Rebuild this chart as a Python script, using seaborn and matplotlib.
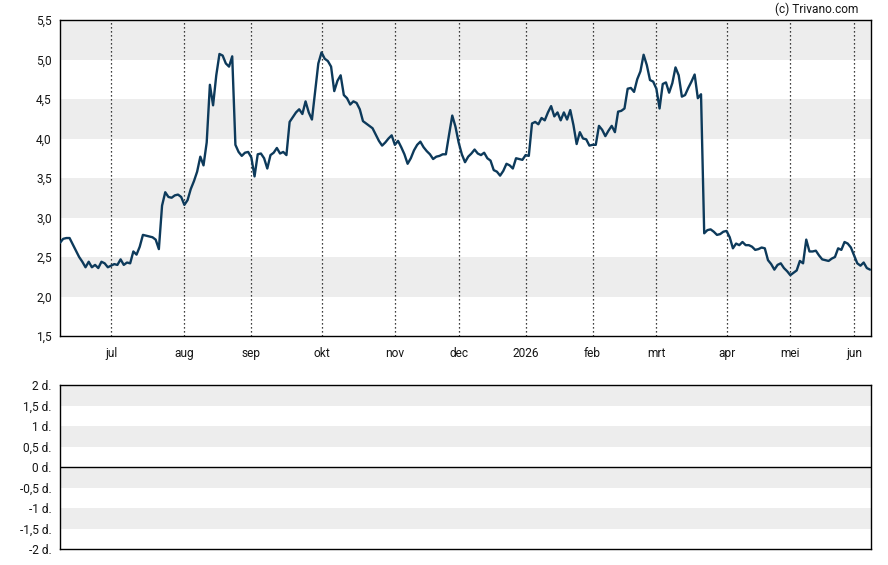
import pandas as pd
import matplotlib
matplotlib.use("Agg")
import matplotlib.pyplot as plt
import seaborn as sns

# daily closing prices, trading days from 2025-06-09 to 2026-06-08
prices = [
    2.68, 2.73, 2.74, 2.74, 2.66, 2.58, 2.50, 2.44, 2.37, 2.44,
    2.37, 2.40, 2.36, 2.44, 2.42, 2.37, 2.39, 2.41, 2.40, 2.47,
    2.40, 2.43, 2.42, 2.57, 2.53, 2.63, 2.78, 2.77, 2.76, 2.75,
    2.72, 2.60, 3.15, 3.32, 3.26, 3.25, 3.28, 3.29, 3.26, 3.16,
    3.22, 3.36, 3.46, 3.58, 3.77, 3.66, 3.95, 4.68, 4.42, 4.80,
    5.07, 5.05, 4.95, 4.91, 5.04, 3.92, 3.83, 3.78, 3.82, 3.83,
    3.76, 3.52, 3.80, 3.81, 3.75, 3.62, 3.79, 3.82, 3.88, 3.81,
    3.83, 3.79, 4.21, 4.27, 4.33, 4.37, 4.31, 4.47, 4.33, 4.24,
    4.59, 4.95, 5.09, 5.01, 4.98, 4.91, 4.60, 4.73, 4.80, 4.55,
    4.51, 4.43, 4.47, 4.45, 4.37, 4.22, 4.19, 4.16, 4.13, 4.05,
    3.97, 3.91, 3.95, 4.00, 4.04, 3.92, 3.97, 3.89, 3.80, 3.68,
    3.75, 3.85, 3.92, 3.96, 3.89, 3.84, 3.80, 3.74, 3.77, 3.78,
    3.80, 3.80, 4.05, 4.29, 4.15, 3.95, 3.80, 3.70, 3.77, 3.81,
    3.86, 3.81, 3.79, 3.82, 3.75, 3.72, 3.60, 3.58, 3.53, 3.59,
    3.68, 3.66, 3.62, 3.75, 3.74, 3.73, 3.79, 3.78, 4.19, 4.21,
    4.18, 4.26, 4.23, 4.33, 4.41, 4.28, 4.33, 4.23, 4.33, 4.24,
    4.36, 4.17, 3.93, 4.08, 4.00, 3.99, 3.91, 3.92, 3.92, 4.16,
    4.11, 4.03, 4.10, 4.16, 4.08, 4.34, 4.35, 4.38, 4.63, 4.64,
    4.59, 4.75, 4.85, 5.06, 4.93, 4.74, 4.72, 4.63, 4.38, 4.69,
    4.71, 4.58, 4.70, 4.90, 4.80, 4.53, 4.55, 4.64, 4.72, 4.81,
    4.51, 4.56, 2.80, 2.84, 2.85, 2.82, 2.78, 2.79, 2.82, 2.83,
    2.75, 2.61, 2.67, 2.65, 2.69, 2.65, 2.65, 2.63, 2.59, 2.60,
    2.62, 2.61, 2.46, 2.41, 2.34, 2.40, 2.42, 2.36, 2.32, 2.27,
    2.30, 2.33, 2.45, 2.42, 2.72, 2.57, 2.57, 2.58, 2.52, 2.47,
    2.46, 2.45, 2.48, 2.50, 2.61, 2.59, 2.69, 2.67, 2.62, 2.52,
    2.42, 2.39, 2.43, 2.36, 2.34,
]
holidays = ["2025-12-25", "2025-12-26", "2026-01-01", "2026-04-03", "2026-04-06", "2026-05-01"]
month_names = {1: "jan", 2: "feb", 3: "mrt", 4: "apr", 5: "mei", 6: "jun",
               7: "jul", 8: "aug", 9: "sep", 10: "okt", 11: "nov", 12: "dec"}
price_ticks = [1.5, 2.0, 2.5, 3.0, 3.5, 4.0, 4.5, 5.0, 5.5]
lower_ticks = [-2, -1.5, -1, -0.5, 0, 0.5, 1, 1.5, 2]

dates = pd.bdate_range("2025-06-09", "2026-06-30", freq="C", holidays=holidays)[:len(prices)]
df = pd.DataFrame({"idx": range(len(prices)), "date": dates, "price": prices})

# first trading day of each month gets a tick
firsts = df[df["date"].dt.month != df["date"].dt.month.shift()].iloc[1:]
tick_pos = firsts["idx"].tolist()
tick_lab = [str(d.year) if d.month == 1 else month_names[d.month] for d in firsts["date"]]

sns.set_style("white")
plt.rcParams["font.family"] = ["Roboto", "DejaVu Sans"]

LINE = "#0d3a5b"
BAND = "#ededed"
TXT = "#151515"
FS = 8.6


def fmt(v):
    s = f"{v:g}" if v % 1 else f"{int(v)}"
    return s.replace(".", ",")


def shade(ax, ticks):
    # alternate grey bands, starting at the top
    top = sorted(ticks, reverse=True)
    for k in range(0, len(top) - 1, 2):
        ax.axhspan(top[k + 1], top[k], color=BAND, lw=0, zorder=0)


def frame(ax):
    for s in ax.spines.values():
        s.set_visible(True)
        s.set_color("black")
        s.set_linewidth(1)
    ax.tick_params(axis="y", length=4, width=1, pad=2, labelsize=FS, colors="black", labelcolor=TXT)


fig = plt.figure(figsize=(8.88, 5.65), dpi=100)
ax = fig.add_axes([60 / 888, 1 - 336 / 565, 811 / 888, 316 / 565])
ax2 = fig.add_axes([60 / 888, 1 - 549 / 565, 811 / 888, 164 / 565])

shade(ax, price_ticks)
sns.lineplot(data=df, x="idx", y="price", ax=ax, color=LINE, linewidth=1.7, zorder=3)
for p in tick_pos:
    ax.axvline(p, color="black", lw=0.9, ls=(0, (1, 2.2)), zorder=1)

ax.set_xlim(0, len(prices) - 0.7)
ax.set_ylim(price_ticks[0], price_ticks[-1])
ax.set_yticks(price_ticks)
ax.set_yticklabels([f"{t:.1f}".replace(".", ",") for t in price_ticks])
ax.set_xticks(tick_pos)
ax.set_xticklabels(tick_lab)
ax.set_xlabel("")
ax.set_ylabel("")
frame(ax)
ax.tick_params(axis="x", length=5, width=1, pad=3, labelsize=FS, colors="black", labelcolor=TXT)

shade(ax2, lower_ticks)
ax2.axhline(0, color="black", lw=1, zorder=2)
ax2.set_xlim(0, len(prices) - 0.7)
ax2.set_ylim(lower_ticks[0], lower_ticks[-1])
ax2.set_yticks(lower_ticks)
ax2.set_yticklabels([fmt(t) + " d." for t in lower_ticks])
ax2.set_xticks([])
frame(ax2)

fig.text(858 / 888, 1 - 9 / 565, "(c) Trivano.com", ha="right", va="center", fontsize=FS, color=TXT)

fig.savefig("out.png", dpi=100)
